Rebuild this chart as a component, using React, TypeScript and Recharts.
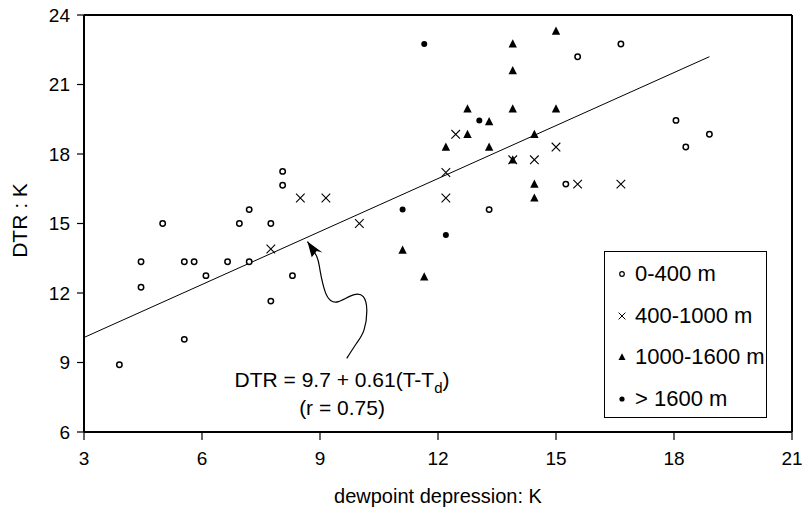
import React from 'react';
import { ScatterChart, Scatter, XAxis, YAxis, ReferenceLine, ReferenceDot, Legend } from 'recharts';

const FONT = "'Liberation Sans', Arial, Helvetica, sans-serif";

const xTicks = [3, 6, 9, 12, 15, 18, 21];
const yTicks = [6, 9, 12, 15, 18, 21, 24];

// 0-400 m
const band0to400 = [
  { x: 3.9, y: 8.9 }, { x: 4.45, y: 13.35 }, { x: 4.45, y: 12.25 }, { x: 5.0, y: 15.0 },
  { x: 5.55, y: 13.35 }, { x: 5.8, y: 13.35 }, { x: 6.1, y: 12.75 }, { x: 6.65, y: 13.35 },
  { x: 6.95, y: 15.0 }, { x: 7.2, y: 15.6 }, { x: 7.2, y: 13.35 }, { x: 7.75, y: 15.0 },
  { x: 7.75, y: 11.65 }, { x: 8.05, y: 17.25 }, { x: 8.05, y: 16.65 }, { x: 8.3, y: 12.75 },
  { x: 5.55, y: 10.0 }, { x: 13.3, y: 15.6 }, { x: 15.25, y: 16.7 }, { x: 15.55, y: 22.2 },
  { x: 16.65, y: 22.75 }, { x: 18.05, y: 19.45 }, { x: 18.3, y: 18.3 }, { x: 18.9, y: 18.85 },
];

// 400-1000 m
const band400to1000 = [
  { x: 7.75, y: 13.9 }, { x: 8.5, y: 16.1 }, { x: 9.15, y: 16.1 }, { x: 10.0, y: 15.0 },
  { x: 12.2, y: 17.2 }, { x: 12.2, y: 16.1 }, { x: 12.45, y: 18.85 }, { x: 13.9, y: 17.75 },
  { x: 14.45, y: 17.75 }, { x: 15.0, y: 18.3 }, { x: 15.55, y: 16.7 }, { x: 16.65, y: 16.7 },
];

// 1000-1600 m
const band1000to1600 = [
  { x: 11.1, y: 13.85 }, { x: 11.65, y: 12.7 }, { x: 12.2, y: 18.3 }, { x: 12.75, y: 19.95 },
  { x: 12.75, y: 18.85 }, { x: 13.3, y: 19.4 }, { x: 13.3, y: 18.3 }, { x: 13.9, y: 22.75 },
  { x: 13.9, y: 21.6 }, { x: 13.9, y: 19.95 }, { x: 13.9, y: 17.75 }, { x: 14.45, y: 18.85 },
  { x: 14.45, y: 16.7 }, { x: 14.45, y: 16.1 }, { x: 15.0, y: 23.3 }, { x: 15.0, y: 19.95 },
];

// > 1600 m
const bandAbove1600 = [
  { x: 11.1, y: 15.6 }, { x: 11.65, y: 22.75 }, { x: 12.2, y: 14.5 }, { x: 13.05, y: 19.45 },
];

// fitted line as drawn
const fitLine = [{ x: 3, y: 10.08 }, { x: 18.9, y: 22.2 }];

// curvy annotation arrow (tip first)
const arrowPath = [
  { x: 8.68, y: 14.22 }, { x: 8.92, y: 13.57 }, { x: 9.0, y: 12.99 }, { x: 9.13, y: 12.06 },
  { x: 9.27, y: 11.68 }, { x: 9.47, y: 11.63 }, { x: 9.85, y: 11.92 }, { x: 10.1, y: 11.84 },
  { x: 10.19, y: 11.27 }, { x: 10.12, y: 10.41 }, { x: 9.93, y: 9.83 }, { x: 9.68, y: 9.18 },
];

const equationAnchor = { x: 9.56, y: 7.93 };
const rAnchor = { x: 9.56, y: 6.74 };

const OpenCircle = (p: any) => (
  <circle cx={p.cx} cy={p.cy} r={2.7} fill="#fff" stroke="#000" strokeWidth={1.5} />
);
const Cross = (p: any) => {
  const s = 4.3;
  return (
    <path
      d={`M${p.cx - s},${p.cy - s}L${p.cx + s},${p.cy + s}M${p.cx - s},${p.cy + s}L${p.cx + s},${p.cy - s}`}
      stroke="#000"
      strokeWidth={1.1}
      fill="none"
    />
  );
};
const Tri = (p: any) => (
  <path d={`M${p.cx},${p.cy - 4.6}L${p.cx + 4.2},${p.cy + 3.6}L${p.cx - 4.2},${p.cy + 3.6}Z`} fill="#000" />
);
const Dot = (p: any) => <circle cx={p.cx} cy={p.cy} r={3} fill="#000" />;
const Empty = () => <g />;

const ArrowHead = (p: any) => (
  <path
    d={`M${p.cx},${p.cy}L${p.cx + 4.3},${p.cy + 15.7}L${p.cx + 9.3},${p.cy + 9.5}L${p.cx + 15},${p.cy + 11}Z`}
    fill="#000"
  />
);

const Equation = (p: any) => (
  <text x={p.cx} y={p.cy} textAnchor="middle" fontFamily={FONT} fontSize={21} fill="#000">
    DTR = 9.7 + 0.61(T-T
    <tspan dy={6} fontSize={15}>d</tspan>
    <tspan dy={-6}>)</tspan>
  </text>
);
const RText = (p: any) => (
  <text x={p.cx} y={p.cy} textAnchor="middle" fontFamily={FONT} fontSize={21} fill="#000">
    (r = 0.75)
  </text>
);

const legendItems = [
  { name: '0-400 m', Sym: (p: any) => <circle cx={p.cx} cy={p.cy} r={2.3} fill="#fff" stroke="#000" strokeWidth={1.2} /> },
  {
    name: '400-1000 m',
    Sym: (p: any) => (
      <path
        d={`M${p.cx - 3.4},${p.cy - 3.4}L${p.cx + 3.4},${p.cy + 3.4}M${p.cx - 3.4},${p.cy + 3.4}L${p.cx + 3.4},${p.cy - 3.4}`}
        stroke="#000"
        strokeWidth={1}
      />
    ),
  },
  { name: '1000-1600 m', Sym: (p: any) => <path d={`M${p.cx},${p.cy - 3.8}L${p.cx + 3.5},${p.cy + 3}L${p.cx - 3.5},${p.cy + 3}Z`} fill="#000" /> },
  { name: '> 1600 m', Sym: (p: any) => <circle cx={p.cx} cy={p.cy} r={2.6} fill="#000" /> },
];

const renderLegend = () => (
  <div
    style={{
      width: 163,
      height: 167,
      boxSizing: 'border-box',
      border: '1.5px solid #000',
      background: '#fff',
      position: 'relative',
      fontFamily: FONT,
      fontSize: 22,
      color: '#000',
    }}
  >
    {legendItems.map((it, i) => (
      <div
        key={it.name}
        style={{ position: 'absolute', left: 0, top: 8 + i * 41.5, height: 28, lineHeight: '28px', whiteSpace: 'nowrap' }}
      >
        <svg width={30} height={28} style={{ position: 'absolute', left: 0, top: 0 }}>
          <it.Sym cx={17} cy={14} />
        </svg>
        <span style={{ position: 'absolute', left: 30, top: 0 }}>{it.name}</span>
      </div>
    ))}
  </div>
);

const YLabel = (props: any) => {
  const vb = props.viewBox || { x: 0, y: 15, width: 84, height: 417 };
  const cx = vb.x + 19;
  const cy = vb.y + vb.height / 2 - 3;
  return (
    <text
      x={cx}
      y={cy}
      transform={`rotate(-90 ${cx} ${cy})`}
      textAnchor="middle"
      dominantBaseline="central"
      fontFamily={FONT}
      fontSize={21}
      fill="#000"
    >
      DTR : K
    </text>
  );
};

export default function App() {
  return (
    <div style={{ position: 'absolute', left: 0, top: 0, background: '#fff' }}>
      <ScatterChart width={802} height={511} margin={{ top: 15, right: 10, left: 0, bottom: 0 }}>
        <XAxis
          type="number"
          dataKey="x"
          domain={[3, 21]}
          ticks={xTicks}
          allowDataOverflow
          height={79}
          tick={{ fill: '#000', fontSize: 19, fontFamily: FONT }}
          tickSize={8}
          tickMargin={12}
          axisLine={{ stroke: '#000', strokeWidth: 2 }}
          tickLine={{ stroke: '#000', strokeWidth: 1.2 }}
          label={{ value: 'dewpoint depression: K', position: 'insideBottom', offset: 8, fill: '#000', fontSize: 20, fontFamily: FONT }}
        />
        <YAxis
          type="number"
          dataKey="y"
          domain={[6, 24]}
          ticks={yTicks}
          allowDataOverflow
          width={84}
          tick={{ fill: '#000', fontSize: 19, fontFamily: FONT }}
          tickSize={7}
          tickMargin={7}
          axisLine={{ stroke: '#000', strokeWidth: 2 }}
          tickLine={{ stroke: '#000', strokeWidth: 1.2 }}
          label={{ content: YLabel }}
        />
        <ReferenceLine y={24} stroke="#000" strokeWidth={2} />
        <ReferenceLine x={21} stroke="#000" strokeWidth={2} />
        <ReferenceLine segment={fitLine} stroke="#000" strokeWidth={1} />
        <Scatter name="0-400 m" data={band0to400} shape={OpenCircle} isAnimationActive={false} />
        <Scatter name="400-1000 m" data={band400to1000} shape={Cross} isAnimationActive={false} />
        <Scatter name="1000-1600 m" data={band1000to1600} shape={Tri} isAnimationActive={false} />
        <Scatter name="> 1600 m" data={bandAbove1600} shape={Dot} isAnimationActive={false} />
        <Scatter
          name="arrow"
          data={arrowPath}
          shape={Empty}
          line={{ stroke: '#000', strokeWidth: 1.2, fill: 'none' }}
          lineJointType="natural"
          legendType="none"
          isAnimationActive={false}
        />
        <ReferenceDot x={arrowPath[0].x} y={arrowPath[0].y} r={0} shape={ArrowHead} />
        <ReferenceDot x={equationAnchor.x} y={equationAnchor.y} r={0} shape={Equation} />
        <ReferenceDot x={rAnchor.x} y={rAnchor.y} r={0} shape={RText} />
        <Legend
          layout="vertical"
          align="center"
          verticalAlign="middle"
          content={renderLegend}
          wrapperStyle={{ position: 'absolute', left: 604, top: 251, width: 163, height: 167 }}
        />
      </ScatterChart>
    </div>
  );
}
